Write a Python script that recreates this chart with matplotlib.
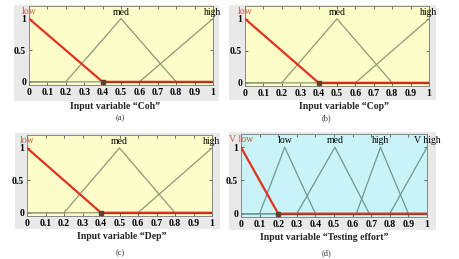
import matplotlib
matplotlib.use("Agg")
import matplotlib.pyplot as plt
from matplotlib.patches import Rectangle

plt.rcParams['font.family'] = ['Liberation Serif', 'DejaVu Serif']

# ---- data ----
x_ticks = [0, 0.1, 0.2, 0.3, 0.4, 0.5, 0.6, 0.7, 0.8, 0.9, 1]
x_tick_labels = ["0", "0.1", "0.2", "0.3", "0.4", "0.5", "0.6", "0.7", "0.8", "0.9", "1"]
y_ticks = [0, 0.5, 1]
y_tick_labels = ["0", "0.5", "1"]

mf3_names = ["low", "med", "high"]
mf3_x = [[0, 0.4, 1], [0, 0.2, 0.5, 0.8, 1], [0, 0.6, 1]]
mf3_y = [[1, 0, 0], [0, 0, 1, 0, 0], [0, 0, 1]]
mf3_peaks = [0, 0.5, 1]

mf5_names = ["V low", "low", "med", "high", "V high"]
mf5_x = [[0, 0.2, 1], [0, 0.1, 0.235, 0.4, 1], [0, 0.3, 0.505, 0.69, 1],
         [0, 0.62, 0.75, 0.9, 1], [0, 0.8, 1]]
mf5_y = [[1, 0, 0], [0, 0, 1, 0, 0], [0, 0, 1, 0, 0], [0, 0, 1, 0, 0], [0, 0, 1]]
mf5_peaks = [0, 0.235, 0.505, 0.75, 1]

var_names = ["Coh", "Cop", "Dep", "Testing effort"]
panel_tags = ["(a)", "(b)", "(c)", "(d)"]

W, H = 459, 259
fig = plt.figure(figsize=(W / 100, H / 100), dpi=100)
fig.patch.set_facecolor("white")

def px_rect(x0, y0, x1, y1):
    return (x0 / W, 1 - y1 / H, (x1 - x0) / W, (y1 - y0) / H)

frames = [(14, 5, 219, 101), (229, 5, 436, 100), (15, 133, 220, 229), (229, 132, 436, 230)]
axes_px = [(29, 6, 213, 85), (245, 6, 429, 86), (27, 135, 212, 216), (241, 134, 427, 217)]
label_pos = [(115, 106), (344, 106), (122, 236), (324, 237)]
tag_pos = [(120, 118), (326, 118), (120, 253), (326, 253)]
bg_colors = ["#fdfdc9", "#fdfdc9", "#fdfdc9", "#c9f3f6"]
line_colors = ["#8e9878", "#8e9878", "#8e9878", "#6c9898"]

for i in range(4):
    fx0, fy0, fx1, fy1 = frames[i]
    l, b, w, h = px_rect(fx0, fy0, fx1, fy1)
    fig.patches.append(Rectangle((l, b), w, h, transform=fig.transFigure,
                                 facecolor="#e9e9e9", edgecolor="none", zorder=-10))
    ax = fig.add_axes(px_rect(*axes_px[i]))
    ax.set_zorder(1)
    ax.set_facecolor(bg_colors[i])
    if i < 3:
        names, xs, ys, peaks = mf3_names, mf3_x, mf3_y, mf3_peaks
    else:
        names, xs, ys, peaks = mf5_names, mf5_x, mf5_y, mf5_peaks
    for k in range(1, len(names)):
        ax.plot(xs[k], ys[k], color=line_colors[i], lw=0.9, zorder=2)
    ax.plot(xs[0], ys[0], color="#e0321e", lw=1.6, zorder=3)
    ax.plot(xs[0][1:], ys[0][1:], color="#8a2a1a", lw=1.0, zorder=4, alpha=0.6)
    ax.plot([xs[0][1]], [0], marker="s", ms=2.5, color="#604030", zorder=5)
    for k, name in enumerate(names):
        ax.text(peaks[k], 1.12 if k == 0 else 1.1, name, ha="center", va="center",
                fontsize=7, color="#d05545" if k == 0 else "black",
                clip_on=False, zorder=6)
    ax.set_xlim(0, 1)
    ax.set_ylim(-0.05, 1.2)
    ax.set_xticks(x_ticks)
    ax.set_xticklabels(x_tick_labels, fontsize=7, fontweight="bold")
    ax.set_yticks(y_ticks)
    ax.set_yticklabels(y_tick_labels, fontsize=7, fontweight="bold")
    ax.tick_params(direction="in", length=2, width=0.5, top=True, right=True, pad=2,
                   colors="#333333", labelcolor="black")
    for s in ax.spines.values():
        s.set_linewidth(0.6)
        s.set_color("#777777")
    lx, ly = label_pos[i]
    t = fig.text(lx / W, 1 - ly / H, "Input variable \u201c%s\u201d" % var_names[i],
                 ha="center", va="center", fontsize=7, fontweight="bold", color="#222222")
    t.set_zorder(5)
    tx, ty = tag_pos[i]
    fig.text(tx / W, 1 - ty / H, panel_tags[i], ha="center", va="center",
             fontsize=6, color="#333333")

fig.savefig("out.png", dpi=100)
